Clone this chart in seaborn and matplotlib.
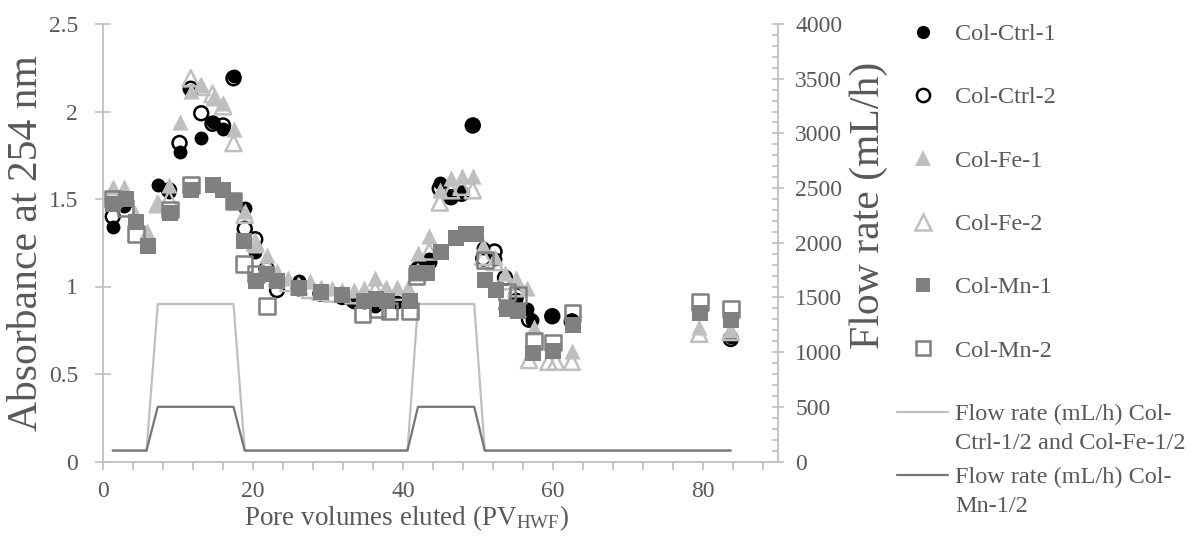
import matplotlib
matplotlib.use('Agg')
import matplotlib.pyplot as plt
import seaborn as sns
import pandas as pd
from matplotlib.lines import Line2D
from matplotlib.ticker import MultipleLocator

# ---------------- data ----------------
pv_ctrl1 = [1.3, 2.8, 7.3, 8.8, 10.2, 11.7, 13.1, 14.6, 16.0, 17.4, 18.9, 20.3, 21.8, 23.2, 26.1,
            29.0, 31.9, 33.4, 34.8, 36.3, 37.7, 39.2, 40.6, 42.0, 43.5, 44.9, 46.4, 47.8, 49.3,
            50.7, 52.2, 53.6, 55.1, 56.5, 57.2, 59.9, 62.5, 83.7]
abs_ctrl1 = [1.34, 1.46, 1.58, 1.54, 1.77, 2.12, 1.85, 1.94, 1.90, 2.20, 1.45, 1.20, 1.08, 1.03, 1.03,
             0.98, 0.96, 0.91, 0.91, 0.89, 0.93, 0.91, 0.93, 1.10, 1.16, 1.59, 1.52, 1.54, 1.93,
             1.22, 1.16, 0.88, 0.93, 0.87, 0.81, 0.84, 0.81, 0.71]

pv_ctrl2 = [1.3, 2.8, 8.8, 10.2, 11.7, 13.1, 14.6, 16.0, 17.4, 18.9, 20.3, 21.8, 23.2, 26.1, 29.0,
            31.9, 33.4, 36.3, 42.0, 43.5, 44.9, 46.4, 47.8, 49.3, 50.7, 52.2, 53.6, 55.1, 56.8,
            59.9, 62.5, 83.7]
abs_ctrl2 = [1.40, 1.47, 1.55, 1.82, 2.13, 1.99, 1.93, 1.92, 2.19, 1.33, 1.27, 1.10, 0.98, 0.99, 0.96,
             0.94, 0.92, 0.90, 1.10, 1.14, 1.56, 1.51, 1.53, 1.92, 1.16, 1.20, 1.05, 0.95, 0.81,
             0.83, 0.80, 0.70]

pv_fe1 = [1.3, 2.8, 4.3, 5.8, 7.3, 8.8, 10.2, 11.7, 13.1, 14.6, 16.0, 17.4, 18.9, 20.3, 21.8, 23.2,
          24.7, 26.1, 27.6, 29.0, 30.5, 31.9, 33.4, 34.8, 36.3, 37.7, 39.2, 40.6, 42.0, 43.5, 44.9,
          46.4, 47.8, 49.3, 50.7, 52.2, 53.6, 55.1, 56.5, 57.4, 62.5, 79.5, 83.7]
abs_fe1 = [1.57, 1.57, 1.42, 1.32, 1.48, 1.58, 1.94, 2.12, 2.15, 2.08, 2.05, 1.90, 1.43, 1.24, 1.18, 1.09,
           1.05, 1.01, 1.03, 1.00, 0.99, 0.98, 0.98, 0.99, 1.05, 1.00, 1.00, 1.00, 1.19, 1.29, 1.55,
           1.62, 1.63, 1.63, 1.24, 1.17, 1.08, 1.05, 0.99, 0.77, 0.63, 0.77, 0.75]

pv_fe2 = [1.3, 2.8, 7.3, 8.8, 11.7, 13.1, 14.6, 16.0, 17.4, 18.9, 20.3, 21.8, 23.2, 24.7, 26.1, 27.6,
          29.0, 30.5, 31.9, 33.4, 34.8, 36.3, 37.7, 39.2, 42.0, 43.5, 44.9, 46.4, 47.8, 49.3, 50.7,
          52.2, 53.6, 55.1, 56.8, 59.4, 60.4, 62.5, 79.5, 83.7]
abs_fe2 = [1.54, 1.52, 1.47, 1.50, 2.19, 2.14, 2.10, 2.03, 1.82, 1.41, 1.25, 1.12, 1.05, 1.02, 1.00, 0.98,
           0.97, 0.96, 0.96, 0.95, 0.95, 0.98, 0.97, 0.97, 1.08, 1.20, 1.48, 1.55, 1.57, 1.55, 1.17,
           1.14, 1.03, 0.99, 0.58, 0.57, 0.57, 0.57, 0.73, 0.74]

pv_mn1 = [1.3, 3.0, 4.4, 6.0, 8.9, 11.7, 14.6, 16.0, 17.4, 18.8, 20.4, 21.8, 23.2, 26.1, 29.0, 31.9,
          34.8, 36.4, 37.9, 40.9, 41.8, 43.2, 45.1, 47.1, 48.4, 49.7, 50.9, 52.4, 53.9, 55.3, 57.3,
          60.0, 62.6, 79.6, 83.7]
abs_mn1 = [1.47, 1.50, 1.37, 1.23, 1.42, 1.55, 1.58, 1.55, 1.49, 1.26, 1.03, 1.07, 1.03, 0.99, 0.97, 0.95,
           0.92, 0.93, 0.92, 0.92, 1.08, 1.08, 1.20, 1.28, 1.30, 1.30, 1.04, 0.98, 0.87, 0.86, 0.62,
           0.63, 0.78, 0.85, 0.81]

pv_mn2 = [1.3, 3.0, 4.4, 8.9, 11.7, 17.4, 18.8, 20.4, 21.9, 34.6, 36.6, 38.2, 40.9, 41.8, 50.9, 53.9,
          55.3, 57.5, 60.0, 62.6, 79.6, 83.7]
abs_mn2 = [1.50, 1.45, 1.30, 1.44, 1.58, 1.49, 1.13, 1.07, 0.89, 0.84, 0.87, 0.86, 0.86, 1.06, 1.15, 0.97,
           0.95, 0.69, 0.68, 0.85, 0.91, 0.87]

pv_flow = [1.3, 5.8, 7.3, 17.4, 18.9, 40.6, 42.0, 49.5, 50.9, 83.7]
flow_ctrl_fe = [100, 100, 1440, 1440, 100, 100, 1440, 1440, 100, 100]
flow_mn = [100, 100, 500, 500, 100, 100, 500, 500, 100, 100]

labels = ['Col-Ctrl-1', 'Col-Ctrl-2', 'Col-Fe-1', 'Col-Fe-2', 'Col-Mn-1', 'Col-Mn-2']
flow_labels = ['Flow rate (mL/h) Col-', 'Flow rate (mL/h) Col-']
flow_label_cont = ['Ctrl-1/2 and Col-Fe-1/2', 'Mn-1/2']

# ---------------- style ----------------
sns.set_theme(style='white')
plt.rcParams['font.family'] = ['Liberation Serif', 'DejaVu Serif']
plt.rcParams['mathtext.fontset'] = 'custom'
plt.rcParams['mathtext.rm'] = 'Liberation Serif'
plt.rcParams['mathtext.it'] = 'Liberation Serif:italic'
TXT = '#595959'
AXC = '#BFBFBF'
FS_TICK = 17
FS_LEG = 17.5
FS_XLAB = 19.5
FS_YLAB = 30

fig = plt.figure(figsize=(11.92, 5.43), dpi=100)
ax = fig.add_axes([103 / 1192, 1 - 461.5 / 543, 675 / 1192, 437.5 / 543])
ax2 = ax.twinx()
ax.set_zorder(2)
ax2.set_zorder(1)
ax.patch.set_visible(False)

# flow lines (secondary axis)
df_flow = pd.DataFrame({'pv': pv_flow, 'a': flow_ctrl_fe, 'b': flow_mn})
sns.lineplot(data=df_flow, x='pv', y='a', ax=ax2, color='#BFBFBF', lw=1.6,
             estimator=None, sort=False, legend=False)
sns.lineplot(data=df_flow, x='pv', y='b', ax=ax2, color='#767676', lw=1.6,
             estimator=None, sort=False, legend=False)

series = [
    (pv_ctrl1, abs_ctrl1, 'o', 'black', 'black', 100),
    (pv_ctrl2, abs_ctrl2, 'o', 'none', 'black', 100),
    (pv_fe1, abs_fe1, '^', '#BFBFBF', '#BFBFBF', 135),
    (pv_fe2, abs_fe2, '^', 'none', '#BFBFBF', 135),
    (pv_mn1, abs_mn1, 's', '#808080', '#808080', 125),
    (pv_mn2, abs_mn2, 's', 'none', '#808080', 125),
]
for i, (xs, ys, m, fc, ec, s) in enumerate(series):
    lw = 0 if fc == ec else 1.8
    sns.scatterplot(x=xs, y=ys, ax=ax, marker=m, s=s, facecolor=fc, edgecolor=ec,
                    linewidth=lw, zorder=3 + i, legend=False)

# axes limits & ticks
ax.set_xlim(0, 90)
ax.set_ylim(0, 2.5)
ax2.set_ylim(0, 4000)
ax.xaxis.set_major_locator(MultipleLocator(20))
ax.xaxis.set_minor_locator(MultipleLocator(4))
ax2.yaxis.set_major_locator(MultipleLocator(500))
ax2.yaxis.set_minor_locator(MultipleLocator(100))
ax.set_yticks([0, 0.5, 1, 1.5, 2, 2.5])
ax.set_yticklabels(['0', '0.5', '1', '1.5', '2', '2.5'])

for a in (ax, ax2):
    for sp in a.spines.values():
        sp.set_color(AXC)
        sp.set_linewidth(1.3)
    a.spines['top'].set_visible(False)
ax.spines['right'].set_visible(False)
ax2.spines['left'].set_visible(False)
ax2.spines['bottom'].set_visible(False)

ax.tick_params(axis='x', which='both', direction='out', length=6, width=1.2, color=AXC,
               labelsize=FS_TICK, labelcolor=TXT, pad=8, bottom=True)
ax.tick_params(axis='y', which='major', direction='inout', length=12, width=1.2, color=AXC,
               labelsize=FS_TICK, labelcolor=TXT, pad=12, left=True)
ax2.tick_params(axis='y', which='major', direction='inout', length=9, width=1.2, color=AXC,
                labelsize=FS_TICK, labelcolor=TXT, pad=8, right=True)
ax2.tick_params(axis='y', which='minor', direction='in', length=4, width=1.2, color=AXC, right=True)
ax.grid(False)
ax2.grid(False)

ax.set_xlabel('Pore volumes eluted (PV$_{\\mathrm{HWF}}$)', fontsize=FS_XLAB, color=TXT)
ax.xaxis.set_label_coords(0.45, -0.095)
ax.set_ylabel('Absorbance at 254 nm', fontsize=FS_YLAB, color=TXT, labelpad=2)
ax2.set_ylabel('Flow rate (mL/h)', fontsize=FS_YLAB, color=TXT, rotation=90)
ax2.yaxis.set_label_coords(1.106, 0.585)

# legend
handles = []
for (xs, ys, m, fc, ec, s), lab in zip(series, labels):
    handles.append(Line2D([], [], linestyle='none', marker=m, markersize=s ** 0.5 * 0.95,
                          markerfacecolor=fc, markeredgecolor=ec,
                          markeredgewidth=0 if fc == ec else 1.8, label=lab))
handles.append(Line2D([], [], color='#BFBFBF', lw=1.6, label=flow_labels[0]))
handles.append(Line2D([], [], color='#767676', lw=1.6, label=flow_labels[1]))
leg = fig.legend(handles=handles, loc='upper left', bbox_to_anchor=(897 / 1192, 1 - 23 / 543),
                 frameon=False, fontsize=FS_LEG, labelcolor=TXT, handlelength=2.1,
                 handletextpad=0.3, labelspacing=1.7, borderpad=0, borderaxespad=0)

fig.canvas.draw()
inv = fig.transFigure.inverted()
for t, cont in zip(leg.get_texts()[6:], flow_label_cont):
    bb = t.get_window_extent()
    x0, y0 = inv.transform((bb.x0, bb.y0 - 29))
    fig.text(x0, y0, cont, fontsize=FS_LEG, color=TXT, ha='left', va='bottom')

fig.savefig('out.png', dpi=100)
